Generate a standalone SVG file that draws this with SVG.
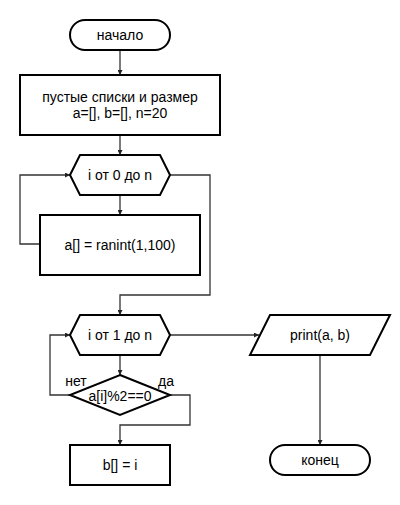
<svg xmlns="http://www.w3.org/2000/svg" width="400" height="505" viewBox="0 0 400 505">
  <defs>
    <marker id="arr" viewBox="0 0 8 8" refX="8" refY="4" markerWidth="5" markerHeight="5" orient="auto" markerUnits="userSpaceOnUse">
      <path d="M0,0 L8,4 L0,8 z" fill="#222"/>
    </marker>
    <style>
      .shape { fill: #fff; stroke: #000; stroke-width: 2; }
      .edge { fill: none; stroke: #333; stroke-width: 1.3; }
      text { font-family: "Liberation Sans", Arial, sans-serif; font-size: 14px; fill: #000; text-anchor: middle; dominant-baseline: central; }
    </style>
  </defs>
  <rect width="400" height="505" fill="#fff"/>

  <g id="connectors">
    <path class="edge" d="M120,50 V75" marker-end="url(#arr)"/>
    <path class="edge" d="M120,135 V155" marker-end="url(#arr)"/>
    <path class="edge" d="M120,195 V215" marker-end="url(#arr)"/>
    <path class="edge" d="M40,244 H20 V175 H70" marker-end="url(#arr)"/>
    <path class="edge" d="M170,175 H210 V295 H120 V315" marker-end="url(#arr)"/>
    <path class="edge" d="M120,355 V375" marker-end="url(#arr)"/>
    <path class="edge" d="M70,395 H50 V335 H70" marker-end="url(#arr)"/>
    <path class="edge" d="M170,395 H190 V425 H120 V445" marker-end="url(#arr)"/>
    <path class="edge" d="M170,335 H259" marker-end="url(#arr)"/>
    <path class="edge" d="M320,355 V445" marker-end="url(#arr)"/>
  </g>

  <g id="start">
    <rect class="shape" x="70" y="20" width="100" height="30" rx="15" ry="15"/>
    <text x="120" y="35">начало</text>
  </g>

  <g id="init">
    <rect class="shape" x="20" y="75" width="200" height="60"/>
    <text x="120" y="97">пустые списки и размер</text>
    <text x="120" y="113">a=[], b=[], n=20</text>
  </g>

  <g id="loop1">
    <polygon class="shape" points="70,175 80,155 160,155 170,175 160,195 80,195"/>
    <text x="120" y="175">i от 0 до n</text>
  </g>

  <g id="fill">
    <rect class="shape" x="40" y="215" width="160" height="60"/>
    <text x="120" y="245">a[] = ranint(1,100)</text>
  </g>

  <g id="loop2">
    <polygon class="shape" points="70,335 80,315 160,315 170,335 160,355 80,355"/>
    <text x="120" y="335">i от 1 до n</text>
  </g>

  <g id="check">
    <polygon class="shape" points="120,375 170,395 120,415 70,395"/>
    <text x="120" y="396">a[i]%2==0</text>
    <text x="76" y="381">нет</text>
    <text x="166" y="381">да</text>
  </g>

  <g id="append">
    <rect class="shape" x="70" y="445" width="100" height="40"/>
    <text x="120" y="465">b[] = i</text>
  </g>

  <g id="output">
    <polygon class="shape" points="270,315 390,315 370,355 250,355"/>
    <text x="320" y="335">print(a, b)</text>
  </g>

  <g id="end">
    <rect class="shape" x="270" y="445" width="100" height="30" rx="15" ry="15"/>
    <text x="320" y="460">конец</text>
  </g>
</svg>
